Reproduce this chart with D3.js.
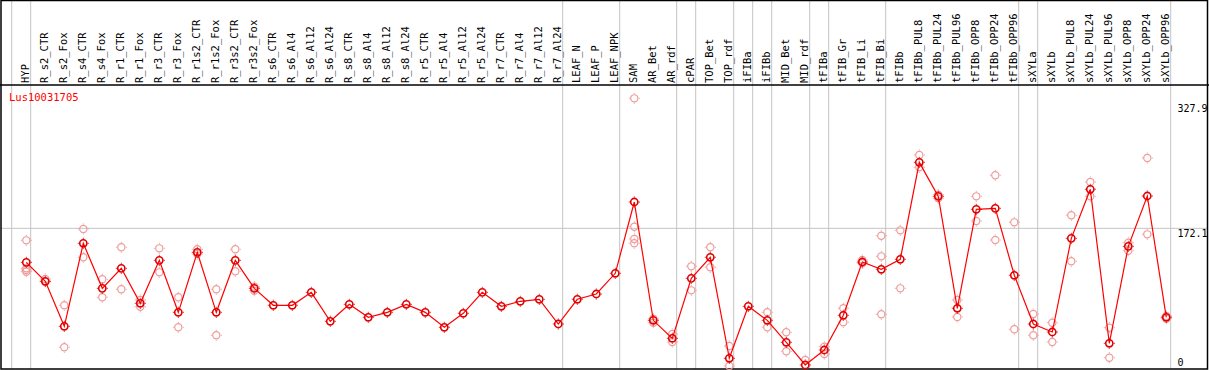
<!DOCTYPE html>
<html>
<head>
<meta charset="utf-8">
<script src="https://cdn.jsdelivr.net/npm/d3@7"></script>
<style>
  body { margin: 0; background: #fff; }
  svg { display: block; }
  text { font-family: "DejaVu Sans Mono", monospace; }
</style>
</head>
<body>
<div class="chart"></div>
<script>
// sample names, one per column
const labels = ["HYP","R_s2_CTR","R_s2_Fox","R_s4_CTR","R_s4_Fox","R_r1_CTR","R_r1_Fox","R_r3_CTR","R_r3_Fox",
  "R_r1s2_CTR","R_r1s2_Fox","R_r3s2_CTR","R_r3s2_Fox","R_s6_CTR","R_s6_Al4","R_s6_Al12","R_s6_Al24",
  "R_s8_CTR","R_s8_Al4","R_s8_Al12","R_s8_Al24","R_r5_CTR","R_r5_Al4","R_r5_Al12","R_r5_Al24",
  "R_r7_CTR","R_r7_Al4","R_r7_Al12","R_r7_Al24","LEAF_N","LEAF_P","LEAF_NPK","SAM","AR_Bet","AR_rdf",
  "cPAR","TOP_Bet","TOP_rdf","iFIBa","iFIBb","MID_Bet","MID_rdf","tFIBa","tFIB_Gr","tFIB_Li","tFIB_Bi",
  "tFIBb","tFIBb_PUL8","tFIBb_PUL24","tFIBb_PUL96","tFIBb_OPP8","tFIBb_OPP24","tFIBb_OPP96",
  "sXYLa","sXYLb","sXYLb_PUL8","sXYLb_PUL24","sXYLb_PUL96","sXYLb_OPP8","sXYLb_OPP24","sXYLb_OPP96"];

// mean expression per sample
const means = [129.6,105.9,49.6,153.4,97.1,122.1,78.4,132.1,67.1,
  142.1,67.1,132.1,97.1,75.9,75.9,92.1,55.9,
  77.1,60.9,67.1,77.1,67.1,48.4,65.9,92.1,
  74.6,80.9,83.4,52.5,83.4,90.0,115.9,205.0,57.1,34.6,
  109.6,135.9,9.6,74.6,57.1,29.6,1.3,20.0,63.4,130.0,120.9,
  133.4,254.6,212.1,72.1,195.9,197.1,113.4,
  52.5,42.5,159.6,220.9,28.4,149.6,212.5,60.9];

// replicate values per sample (empty where none are shown)
const reps = [[157.1,122.1,120.0,117.9],[108.8,105.4],[75.9,23.4],[171.3,135.9],[108.4,85.9],[148.4,95.9],
  [82.5,74.1],[147.1,117.1],[85.9,48.4],[145.9,140.0],[95.9,38.4],[145.9,118.4],[99.1,94.1],
  [],[],[],[],[],[],[],[],[],[],[],[],[],[],[],[],[],[],[],
  [334.6,174.1,158.8,153.4],[59.1,54.1],[40.0,30.0],[124.6,94.6],[148.4,123.4],[25.0,0],
  [],[67.1,48.4],[42.1,18.4],[7.5],[24.1,15.0],[72.1,54.6],[132.5,128.4],[162.9,137.1,64.6],
  [169.6,97.1],[263.8,248.4],[214.1,209.6],[82.5,61.3],[212.1,181.3],[238.4,157.5],[179.6,45.9],
  [65.0,38.4],[54.1,30.0],[188.4,130.9],[230.0,212.1],[47.9,10.4],[154.1,144.1],[260.0,164.6],[62.5,59.1]];

// gray separators drawn after these column indexes
const separatorsAfter = [-1,0,28,31,34,35,37,38,39,41,42,45,52,53,60];
const yTicks = [0, 172.1, 327.9];
const geneName = "Lus10031705";

const width = 1209;
const height = 370;
const headerY = 85;

const svg = d3.select('.chart').append('svg')
  .attr('width', width)
  .attr('height', height)
  .attr('viewBox', [0, 0, width, height]);

// scales
const x = d3.scaleBand()
  .domain(labels)
  .range([16.8, 16.8 + labels.length * 19]);
const cx = d => x(d) + x.bandwidth() / 2;
const step = x.step();

const y = d3.scaleLinear()
  .domain([0, 327.9])
  .range([366, 103.7]);

// --- GRID --- //
svg.append('line')
  .attr('x1', 1).attr('x2', width - 2)
  .attr('y1', y(172.1)).attr('y2', y(172.1))
  .attr('stroke', '#c4c4c4');

svg.selectAll('line.sep')
  .data(separatorsAfter)
  .join('line')
  .attr('class', 'sep')
  .attr('x1', i => cx(labels[0]) + i * step + 4.4)
  .attr('x2', i => cx(labels[0]) + i * step + 4.4)
  .attr('y1', 0).attr('y2', height - 1)
  .attr('stroke', '#c4c4c4');

// frame and header divider
svg.append('rect')
  .attr('x', 1).attr('y', 0.5)
  .attr('width', width - 2.5).attr('height', height - 1.5)
  .attr('fill', 'none').attr('stroke', '#000').attr('stroke-width', 1.5);
svg.append('line')
  .attr('x1', 0).attr('x2', width)
  .attr('y1', headerY).attr('y2', headerY)
  .attr('stroke', '#000').attr('stroke-width', 1.5);

// column labels, rotated
svg.selectAll('text.col')
  .data(labels)
  .join('text')
  .attr('class', 'col')
  .attr('transform', d => `translate(${cx(d) + 3},83) rotate(-90)`)
  .attr('font-size', '10.5px')
  .attr('fill', '#000')
  .text(d => d);

// gene name
svg.append('text')
  .attr('x', 9).attr('y', 100.5)
  .attr('font-size', '10.5px')
  .attr('fill', '#ff0000')
  .text(geneName);

// value labels on the right
svg.selectAll('text.tick')
  .data(yTicks)
  .join('text')
  .attr('class', 'tick')
  .attr('x', 1177.5)
  .attr('y', v => v === 0 ? y(v) - 0.5 : y(v) + 8.3)
  .attr('font-size', '10px')
  .attr('fill', '#000')
  .text(v => v === 0 ? '0' : v.toFixed(1));

// marker shape: ring with small ticks
const tickPath = 'M0,-5.5V-4.5M0,4.5V5.5M-5.5,0H-4.5M4.5,0H5.5';
function marker(sel, color, sw) {
  sel.append('circle').attr('r', 3.6)
    .attr('fill', 'none').attr('stroke', color).attr('stroke-width', sw);
  sel.append('path').attr('d', tickPath)
    .attr('stroke', color).attr('stroke-width', 1);
}

// replicate points
const repData = reps.flatMap((r, i) => r.map(v => ({ label: labels[i], v })));
svg.selectAll('g.rep')
  .data(repData)
  .join('g')
  .attr('class', 'rep')
  .attr('transform', d => `translate(${cx(d.label)},${y(d.v)})`)
  .call(marker, '#ef9a9a', 1.2);

// mean line
const line = d3.line()
  .x((d, i) => cx(labels[i]))
  .y(d => y(d));
svg.append('path')
  .datum(means)
  .attr('d', line)
  .attr('fill', 'none')
  .attr('stroke', '#ff0000')
  .attr('stroke-width', 1.2);

// mean points
svg.selectAll('g.mean')
  .data(means)
  .join('g')
  .attr('class', 'mean')
  .attr('transform', (d, i) => `translate(${cx(labels[i])},${y(d)})`)
  .call(marker, '#e00000', 1.6);
</script>
</body>
</html>
